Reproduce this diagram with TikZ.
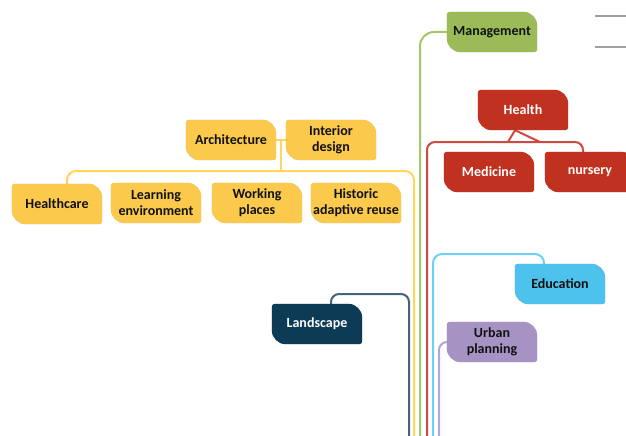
\documentclass[tikz,border=0pt]{standalone}
\usepackage{fontspec}
\setmainfont{Carlito}
\usetikzlibrary{calc}
\pgfdeclarelayer{bg}\pgfdeclarelayer{shp}
\pgfsetlayers{bg,shp,main}
\definecolor{cgreen}{HTML}{9BBB59}
\definecolor{cgreenl}{HTML}{A6C468}
\definecolor{cred}{HTML}{C0311F}
\definecolor{credl}{HTML}{CC4A40}
\definecolor{cyellow}{HTML}{FBC94C}
\definecolor{cyellowl}{HTML}{FFD55A}
\definecolor{cnavy}{HTML}{0D3A55}
\definecolor{cnavyl}{HTML}{45647A}
\definecolor{cblue}{HTML}{4CC2EC}
\definecolor{cbluel}{HTML}{6CD0F2}
\definecolor{cpurple}{HTML}{A792C4}
\definecolor{cpurplel}{HTML}{B6A5CE}
\definecolor{ctext}{HTML}{111111}
% big radius 14, small radius 3; bezier factor 0.45
\newcommand\leafpath[1]{%
  ($(#1.north west)+(3,0)$) -- ($(#1.north east)+(-14,0)$)
  .. controls ($(#1.north east)+(-6.3,0)$) and ($(#1.north east)+(0,6.3)$) .. ($(#1.north east)+(0,14)$)
  -- ($(#1.south east)+(0,-3)$)
  .. controls ($(#1.south east)+(0,-1.35)$) and ($(#1.south east)+(-1.35,0)$) .. ($(#1.south east)+(-3,0)$)
  -- ($(#1.south west)+(14,0)$)
  .. controls ($(#1.south west)+(6.3,0)$) and ($(#1.south west)+(0,-6.3)$) .. ($(#1.south west)+(0,-14)$)
  -- ($(#1.north west)+(0,3)$)
  .. controls ($(#1.north west)+(0,1.35)$) and ($(#1.north west)+(1.35,0)$) .. cycle}
\newcommand\leafshape[2]{%
  \path[fill=black!50,opacity=.45,xshift=1.5pt,yshift=-1.8pt] \leafpath{#1};
  \path[fill=#2] \leafpath{#1};
}
\tikzset{
  leaf/.style={minimum width=90pt, minimum height=40pt, inner sep=0pt, align=center,
    font=\fontsize{14}{16}\selectfont\bfseries, text=ctext},
  wleaf/.style={leaf, text=white},
  conn/.style={line width=2pt},
}
\begin{document}
\begin{tikzpicture}[x=1pt,y=-1pt]
\useasboundingbox (0,0) rectangle (626,436);
% nodes
\node[leaf]  (mgmt) at (492,32) {Management};
\node[wleaf] (health) at (523,110) {Health};
\node[wleaf] (med) at (489,172) {Medicine};
\node[wleaf] (nurs) at (590,172) {nursery};
\node[leaf]  (arch) at (231,140) {Architecture};
\node[leaf]  (int) at (331,140) {Interior\\design};
\node[leaf]  (hc) at (57,204) {Healthcare};
\node[leaf]  (learn) at (156,203) {Learning\\environment};
\node[leaf]  (work) at (257,203) {Working\\places};
\node[leaf]  (hist) at (356,203) {Historic\\adaptive reuse};
\node[wleaf] (land) at (317,324) {Landscape};
\node[leaf]  (edu) at (560,284) {Education};
\node[leaf]  (urb) at (492,342) {Urban\\planning};
% free ends
\coordinate (gbot) at (420,440);
\coordinate (rbot) at (427,440);
\coordinate (ybot) at (414,440);
\coordinate (nbot) at (409,440);
\coordinate (bbot) at (433,440);
\coordinate (pbot) at (439,440);
\coordinate (rjoin) at (583,142);
\coordinate (yleft) at (67,171);
\coordinate (ytee) at (281,171);
\coordinate (njoin) at (331,294);
\coordinate (bjoin) at (544,254);
\coordinate (htip) at ($(health.south)+(-8,0)$);
\coordinate (hl) at (508,142);
\coordinate (hr) at (540,142);
\begin{pgfonlayer}{shp}
\leafshape{mgmt}{cgreen}
\leafshape{health}{cred}
\leafshape{med}{cred}
\leafshape{nurs}{cred}
\leafshape{arch}{cyellow}
\leafshape{int}{cyellow}
\leafshape{hc}{cyellow}
\leafshape{learn}{cyellow}
\leafshape{work}{cyellow}
\leafshape{hist}{cyellow}
\leafshape{land}{cnavy}
\leafshape{edu}{cblue}
\leafshape{urb}{cpurple}
\end{pgfonlayer}
\begin{pgfonlayer}{bg}
\draw[conn, cgreenl, rounded corners=14pt] (gbot) |- (mgmt.west);
\draw[conn, credl, rounded corners=8pt] (rbot) |- (rjoin) -- (rjoin |- nurs.north);
\draw[conn, credl] (hl) -- (htip) -- (hr);
\draw[conn, cyellowl, rounded corners=9pt] (ybot) |- (yleft) -- (yleft |- hc.north);
\draw[conn, cyellowl] (arch.east) -- (int.west);
\draw[conn, cyellowl] (ytee) -- (ytee |- arch.east);
\draw[conn, cnavyl, rounded corners=8pt] (nbot) |- (njoin) -- (njoin |- land.north);
\draw[conn, cbluel, rounded corners=9pt] (bbot) |- (bjoin) -- (bjoin |- edu.north);
\draw[conn, cpurplel, rounded corners=8pt] (pbot) |- (urb.west);
\end{pgfonlayer}
\draw[line width=2.5pt, gray!75] (595,16) -- (630,16);
\draw[line width=2.5pt, gray!75] (595,47) -- (630,47);
\end{tikzpicture}
\end{document}
